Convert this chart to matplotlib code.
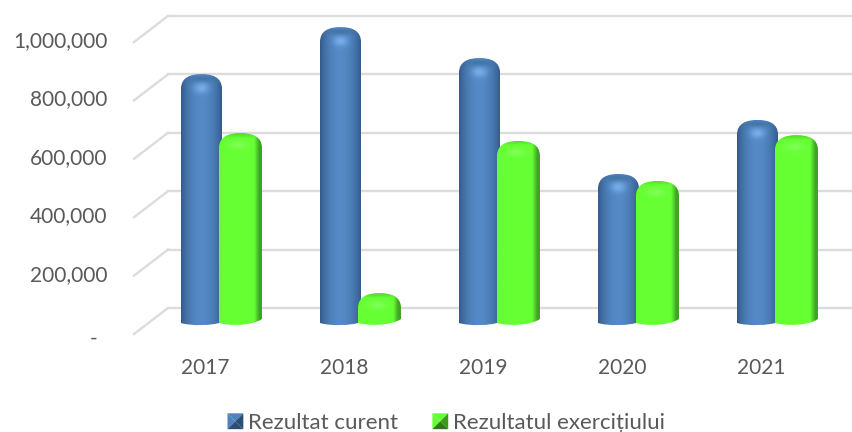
import numpy as np
import matplotlib
matplotlib.use('Agg')
import matplotlib.pyplot as plt
from matplotlib.path import Path
from matplotlib.patches import PathPatch, Polygon
from matplotlib.legend_handler import HandlerBase
from matplotlib.transforms import ScaledTranslation

plt.rcParams['font.family'] = ['Lato', 'DejaVu Sans']

years = ['2017', '2018', '2019', '2020', '2021']
rezultat_curent = [825000, 986000, 880000, 483000, 668000]
rezultat_exercitiu = [623000, 75000, 596000, 459000, 616000]
yticks = [0, 200000, 400000, 600000, 800000, 1000000]
ytick_labels = ['-', '200,000', '400,000', '600,000', '800,000', '1,000,000']
label_blue = 'Rezultat curent'
label_green = 'Rezultatul exercițiului'

W, H = 852, 432
text_color = '#595959'

fig = plt.figure(figsize=(W / 100, H / 100), dpi=100)
# axes box in pixels: left 134, right 852, top 16, bottom 334
ax = fig.add_axes([134 / W, 1 - 334 / H, (852 - 134) / W, (334 - 16) / H])

px_x = 1 / 139.0      # data units per pixel, x
px_y = 1000000 / 292.0  # data units per pixel, y
xmin = (134 - 221) * px_x
xmax = (852 - 221) * px_x
ymin = -13 * px_y
ymax = 1000000 + 13 * px_y


def blue_image(h, w, hpx):
    yy, xx = np.mgrid[0:h, 0:w]
    u = (xx + 0.5) / w
    t = (yy + 0.5) / h * hpx
    shade = np.sin(np.pi * u) ** 0.7
    dark = np.array([0.19, 0.34, 0.51])
    light = np.array([0.33, 0.54, 0.78])
    img = dark + (light - dark) * shade[..., None]
    # darker lid on top of the cylinder, glow just under it
    lid = np.exp(-((u - 0.5) / 0.32) ** 2 - ((t - 5) / 3.5) ** 2)
    img = img + (np.array([0.24, 0.43, 0.62]) - img) * (0.8 * lid)[..., None]
    glow = np.exp(-((u - 0.5) / 0.17) ** 2 - ((t - 14) / 5.0) ** 2)
    img = img + (np.array([0.50, 0.72, 0.95]) - img) * (0.8 * glow)[..., None]
    return np.clip(img, 0, 1)


def green_image(h, w, hpx):
    yy, xx = np.mgrid[0:h, 0:w]
    u = (xx + 0.5) / w
    t = (yy + 0.5) / h * hpx
    img = np.ones((h, w, 3)) * np.array([0.40, 1.0, 0.20])
    side = np.clip((u - 0.82) / 0.12, 0, 1)
    img = img + (np.array([0.25, 0.64, 0.14]) - img) * side[..., None]
    rim = np.clip(1 - t / 5.0, 0, 1) * 0.6
    img = img + (np.array([0.26, 0.72, 0.14]) - img) * rim[..., None]
    glow = np.exp(-((u - 0.45) / 0.2) ** 2 - ((t - 12) / 4.0) ** 2)
    img = img + (np.array([0.55, 1.0, 0.40]) - img) * (0.7 * glow)[..., None]
    return np.clip(img, 0, 1)


def bar_outline(xc, value, wpx, right_lift):
    # rounded top, curved foot; size in pixels, height from the value
    x0 = xc - wpx / 2 * px_x
    x1 = xc + wpx / 2 * px_x
    top = value + 6 * px_y
    foot = -5 * px_y
    side = min(15, (value / px_y + 11) * 0.6) * px_y
    k = wpx * 0.24 * px_x
    verts = [(x0, foot + 3 * px_y), (x0, top - side),
             (x0, top - side * 0.2), (x0 + k, top), (xc, top),
             (x1 - k, top), (x1, top - side * 0.2), (x1, top - side),
             (x1, foot + right_lift * px_y),
             (x1 - k, foot), (x0 + k, foot), (x0, foot + 3 * px_y),
             (x0, foot + 3 * px_y)]
    codes = [Path.MOVETO, Path.LINETO,
             Path.CURVE4, Path.CURVE4, Path.CURVE4,
             Path.CURVE4, Path.CURVE4, Path.CURVE4,
             Path.LINETO,
             Path.CURVE4, Path.CURVE4, Path.CURVE4,
             Path.CLOSEPOLY]
    return Path(verts, codes), x0, x1, top, foot


def draw_bar(xc, value, wpx, painter, z, right_lift):
    path, x0, x1, top, foot = bar_outline(xc, value, wpx, right_lift)
    hpx = (top - foot) / px_y
    img = painter(int(hpx * 3) + 2, int(wpx * 3), hpx)
    im = ax.imshow(img, extent=[x0, x1, foot, top], origin='upper',
                   aspect='auto', zorder=z, interpolation='bilinear')
    im.set_clip_path(PathPatch(path, transform=ax.transData))


# gridlines: back wall and side wall
dy = 13 * px_y
for v in yticks:
    ax.plot([(168 - 221) * px_x, xmax], [v + dy, v + dy], color='#dcdcdc', lw=1.7, zorder=1, clip_on=False)
    ax.plot([xmin, (168 - 221) * px_x], [v - dy, v + dy], color='#dcdcdc', lw=1.7, zorder=1, clip_on=False)

x = np.arange(len(years))
for i in x:
    draw_bar(i - 19.5 * px_x, rezultat_curent[i], 41, blue_image, 3, 4)
    draw_bar(i + 19.5 * px_x, rezultat_exercitiu[i], 43, green_image, 4, 7)

ax.set_xlim(xmin, xmax)
ax.set_ylim(ymin, ymax)
for s in ax.spines.values():
    s.set_visible(False)
ax.patch.set_alpha(0)

ax.set_xticks(x, years)
ax.set_yticks(yticks, ytick_labels)
ax.tick_params(axis='both', length=0, labelsize=15, labelcolor=text_color)
ax.tick_params(axis='x', pad=17)
ax.tick_params(axis='y', pad=19)
for lab in ax.get_xticklabels():
    lab.set_transform(lab.get_transform() + ScaledTranslation(-16 / 100, 0, fig.dpi_scale_trans))
# the "-" sits lower and further left than the numbers
for lab, tick in zip(ax.get_yticklabels(), yticks):
    if tick == 0:
        off = ScaledTranslation(-10 / 100, -16 / 100, fig.dpi_scale_trans)
    else:
        off = ScaledTranslation(0, -10 / 100, fig.dpi_scale_trans)
    lab.set_transform(lab.get_transform() + off)


class BevelHandler(HandlerBase):
    def __init__(self, top, left, right, bottom):
        super().__init__()
        self.cols = (top, left, right, bottom)

    def create_artists(self, legend, orig, xd, yd, width, height, fontsize, trans):
        x0, y0 = -xd + width - height, -yd
        x1, y1 = x0 + height, y0 + height
        cx, cy = x0 + height / 2, y0 + height / 2
        tris = [[(x0, y1), (x1, y1), (cx, cy)], [(x0, y0), (x0, y1), (cx, cy)],
                [(x1, y0), (x1, y1), (cx, cy)], [(x0, y0), (x1, y0), (cx, cy)]]
        return [Polygon(t, closed=True, fc=c, ec='none', transform=trans) for t, c in zip(tris, self.cols)]


h1 = ax.plot([], [], label=label_blue)[0]
h2 = ax.plot([], [], label=label_green)[0]
fig.legend([h1, h2], [label_blue, label_green],
           handler_map={h1: BevelHandler('#4f81bd', '#4f81bd', '#2c4d75', '#2c4d75'),
                        h2: BevelHandler('#66ff33', '#66ff33', '#3c9a1e', '#2f7a17')},
           loc='center', bbox_to_anchor=(446 / W, 1 - 423 / H), ncol=2, frameon=False,
           fontsize=16, labelcolor=text_color, handlelength=0.72, handleheight=0.72,
           handletextpad=0.2, columnspacing=1.55, borderpad=0)

fig.savefig('out.png', dpi=100)
